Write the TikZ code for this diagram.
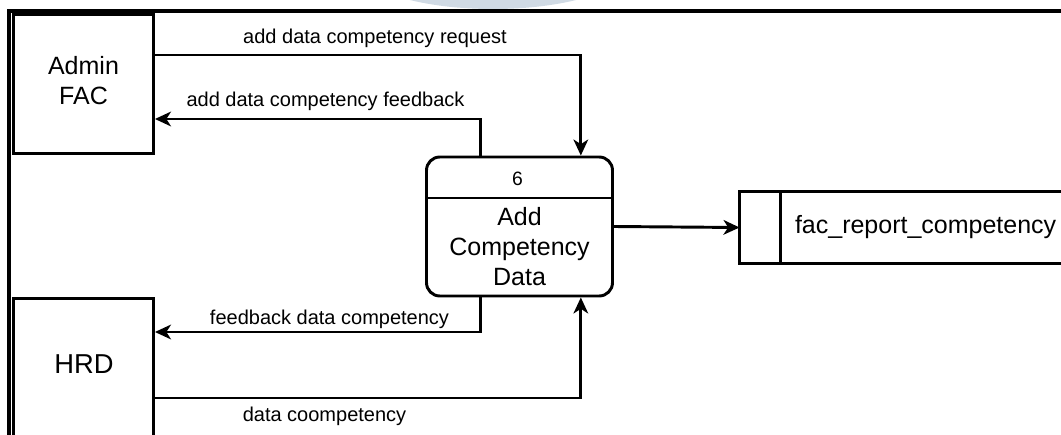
\documentclass[tikz,border=0pt]{standalone}
\usepackage{fontspec}
\setmainfont{Liberation Sans}
\usetikzlibrary{arrows.meta}
\usetikzlibrary{positioning}
\definecolor{MarkBlue}{HTML}{D0DAE4}

\begin{document}
\begin{tikzpicture}[x=0.75pt,y=-0.75pt,line width=2.2pt,
    entity/.style={draw,minimum width=105pt,minimum height=104.25pt},
    process/.style={draw,rounded corners=10pt,minimum width=139.5pt,minimum height=104.25pt},
    flow/.style={-{Stealth[length=12pt,width=11pt,inset=3.5pt]}},
    flowlabel/.style={anchor=base,font=\fontsize{15}{18}\selectfont}]
    \useasboundingbox (0,0) rectangle (1061,435);
    \fill[MarkBlue] (493,-30) ellipse [x radius=130, y radius=39];
    \draw[line width=2.4pt] (1061,11) -- (9,11) -- (9,435);

    \node[entity] (admin) at (83.5,84) {};
    \node[align=center,font=\fontsize{18.75}{22.5}\selectfont] (adminname) at (83.5,81) {Admin\\FAC};
    \node[entity] (hrd) at (83.5,368) {};
    \node[font=\fontsize{20.5}{24}\selectfont] (hrdname) at (84,364) {HRD};

    \node[process] (proc) at (519.5,226.5) {};
    \draw (proc.west |- 0,198) -- (proc.east |- 0,198);
    \node[font=\fontsize{14.5}{17}\selectfont] (procnum) at (517.5,179) {6};
    \node[align=center,font=\fontsize{18.75}{22.5}\selectfont] (procname) at (519.5,247) {Add\\Competency\\Data};

    \node[inner sep=0,minimum width=240pt,minimum height=51.75pt] (store) at (901,227.5) {};
    \draw (store.north east) -- (store.north west) -- (store.south west) -- (store.south east);
    \draw ([xshift=30.75pt]store.north west) -- ([xshift=30.75pt]store.south west);
    \node[anchor=west,inner sep=0,font=\fontsize{18.75}{22.5}\selectfont] (storename) at ([xshift=40.5pt]store.west) {fac\_report\_competency};

    \draw[flow] (admin.east |- 0,55) -| ([xshift=46pt]proc.north);
    \draw[flow] ([xshift=-29pt]proc.north) |- (admin.east |- 0,119);
    \draw[flow] ([xshift=-29pt]proc.south) |- (hrd.east |- 0,332);
    \draw[flow] (hrd.east |- 0,398) -| ([xshift=46pt]proc.south);
    \draw[flow] (proc.east) -- (store.west);

    \node[flowlabel] (reqlabel) at (375,44) {add data competency request};
    \node[flowlabel] (fblabel) at (325.5,107) {add data competency feedback};
    \node[flowlabel] (hrdfblabel) at (329.5,324) {feedback data competency};
    \node[flowlabel] (hrddatalabel) at (324.5,421) {data coompetency};
\end{tikzpicture}
\end{document}
